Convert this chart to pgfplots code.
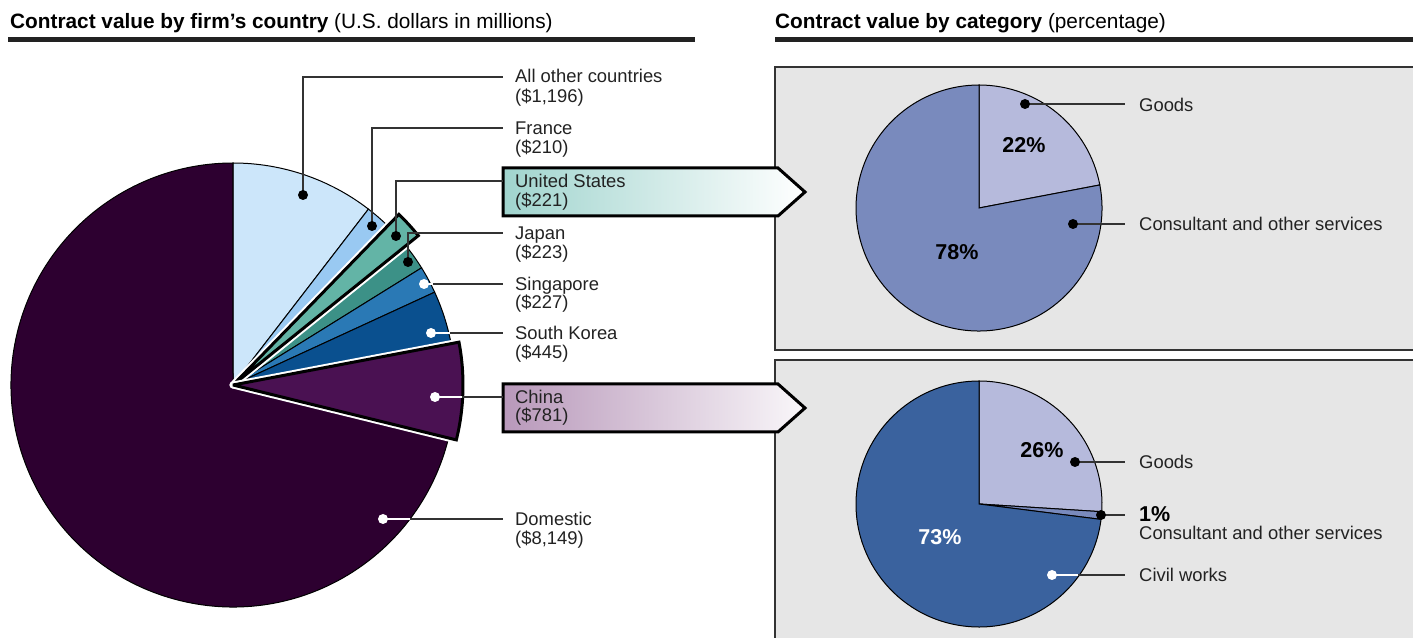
\documentclass[border=0pt]{standalone}
\usepackage{fontspec}
\setmainfont{Liberation Sans}
\usepackage{pgfplots}
\pgfplotsset{compat=1.18}

\definecolor{cAll}{RGB}{204,230,250}
\definecolor{cFra}{RGB}{153,201,242}
\definecolor{cUS}{RGB}{99,180,166}
\definecolor{cJap}{RGB}{60,145,135}
\definecolor{cSin}{RGB}{42,121,181}
\definecolor{cSK}{RGB}{10,80,143}
\definecolor{cChi}{RGB}{74,17,82}
\definecolor{cDom}{RGB}{45,0,48}
\definecolor{bUS}{RGB}{160,212,206}
\definecolor{bChi}{RGB}{184,152,186}
\definecolor{panel}{RGB}{230,230,230}
\definecolor{pGoods}{RGB}{182,186,220}
\definecolor{pCons}{RGB}{121,138,189}
\definecolor{pCivil}{RGB}{58,98,158}
\definecolor{txt}{RGB}{34,34,34}
\definecolor{ldr}{RGB}{51,51,51}

% contract value by firm's country, US$ millions
\def\vAll{1196}\def\vFra{210}\def\vUS{221}\def\vJap{223}
\def\vSin{227}\def\vSK{445}\def\vChi{781}\def\vDom{8149}
\pgfmathsetmacro\tot{\vAll+\vFra+\vUS+\vJap+\vSin+\vSK+\vChi+\vDom}
\pgfmathsetmacro\aA{90}
\pgfmathsetmacro\aB{\aA-\vAll/\tot*360}
\pgfmathsetmacro\aC{\aB-\vFra/\tot*360}
\pgfmathsetmacro\aD{\aC-\vUS/\tot*360}
\pgfmathsetmacro\aE{\aD-\vJap/\tot*360}
\pgfmathsetmacro\aF{\aE-\vSin/\tot*360}
\pgfmathsetmacro\aG{\aF-\vSK/\tot*360}
\pgfmathsetmacro\aH{\aG-\vChi/\tot*360}
\pgfmathsetmacro\aI{\aH-\vDom/\tot*360}
% category shares, percent
\def\tGoods{22}\def\tCons{78}
\def\bGoods{26}\def\bCons{1}\def\bCivil{73}
\pgfmathsetmacro\tA{90-\tGoods*3.6}
\pgfmathsetmacro\tB{\tA-\tCons*3.6}
\pgfmathsetmacro\bA{90-\bGoods*3.6}
\pgfmathsetmacro\bB{\bA-\bCons*3.6}
\pgfmathsetmacro\bC{\bB-\bCivil*3.6}

\newcommand\slice[6]{\path[#1] (axis cs:#2,#3) -- (axis cs:{#2+#4*cos(#5)},{#3+#4*sin(#5)})
  arc[start angle=#5,end angle=#6,radius=#4pt] -- cycle;}
\newcommand\lf{\fontsize{18.4}{20}\selectfont}
\newcommand\tf{\fontsize{20.8}{23}\selectfont}
\newcommand\pf{\fontsize{21.5}{23}\selectfont\bfseries}
\newcommand\lab[3]{\node[anchor=base west,inner sep=0pt,font=\lf,text=txt] at (axis cs:#1,{-(#2)-6.6}) {#3};}
\newcommand\pct[4]{\node[inner sep=0pt,font=\pf,text=#4] at (axis cs:#1,-#2) {#3};}

\begin{document}
\begin{tikzpicture}
\begin{axis}[x=1pt,y=1pt,xmin=0,xmax=1413,ymin=-637,ymax=0,
  hide axis,scale only axis,clip=true]
\path (axis cs:0,0) rectangle (axis cs:1413,-637);
% titles
\node[anchor=base west,inner sep=0pt,font=\tf,text=black] at (axis cs:10,-28.5)
  {\textbf{Contract value by firm’s country} (U.S. dollars in millions)};
\node[anchor=base west,inner sep=0pt,font=\tf,text=black] at (axis cs:775,-28.5)
  {\textbf{Contract value by category} (percentage)};
\fill[txt] (axis cs:8,-37) rectangle (axis cs:695,-42);
\fill[txt] (axis cs:775,-37) rectangle (axis cs:1413,-42);

% right panels
\draw[fill=panel,draw=ldr,line width=1.5pt] (axis cs:775,-67) rectangle (axis cs:1420,-350);
\draw[fill=panel,draw=ldr,line width=1.5pt] (axis cs:775,-360) rectangle (axis cs:1420,-650);

% top category pie
\slice{fill=pGoods,draw=black,line width=1pt}{979}{-208}{123}{90}{\tA}
\slice{fill=pCons,draw=black,line width=1pt}{979}{-208}{123}{\tA}{\tB}
% bottom category pie
\slice{fill=pGoods,draw=black,line width=1pt}{979}{-504}{123}{90}{\bA}
\slice{fill=pCons,draw=black,line width=1pt}{979}{-504}{123}{\bA}{\bB}
\slice{fill=pCivil,draw=black,line width=1pt}{979}{-504}{123}{\bB}{\bC}

\pct{1024}{145}{22\%}{black}
\pct{957}{252}{78\%}{black}
\pct{1042}{450}{26\%}{black}
\pct{940}{537}{73\%}{white}

% right leaders
\draw[ldr,line width=1.4pt] (axis cs:1025,-104) -- (axis cs:1125,-104);
\draw[ldr,line width=1.4pt] (axis cs:1073,-224) -- (axis cs:1125,-224);
\draw[ldr,line width=1.4pt] (axis cs:1075,-462) -- (axis cs:1125,-462);
\draw[ldr,line width=1.4pt] (axis cs:1101,-515) -- (axis cs:1125,-515);
\draw[white,line width=1.4pt] (axis cs:1052,-575) -- (axis cs:1078,-575);
\draw[ldr,line width=1.4pt] (axis cs:1078,-575) -- (axis cs:1125,-575);
\fill[black] (axis cs:1025,-104) circle[radius=5pt];
\fill[black] (axis cs:1073,-224) circle[radius=5pt];
\fill[black] (axis cs:1075,-462) circle[radius=5pt];
\fill[black] (axis cs:1101,-515) circle[radius=5pt];
\fill[white] (axis cs:1052,-575) circle[radius=5pt];
\lab{1139}{105}{Goods}
\lab{1139}{224}{Consultant and other services}
\lab{1139}{462}{Goods}
\node[anchor=base west,inner sep=0pt,font=\pf,text=black] at (axis cs:1139,-522) {1\%};
\lab{1139}{533}{Consultant and other services}
\lab{1139}{575}{Civil works}

% left pie
\slice{fill=cAll,draw=black,line width=1pt}{233}{-385}{222}{\aA}{\aB}
\slice{fill=cFra,draw=black,line width=1pt}{233}{-385}{222}{\aB}{\aC}
\slice{fill=cJap,draw=black,line width=1pt}{233}{-385}{222}{\aD}{\aE}
\slice{fill=cSin,draw=black,line width=1pt}{233}{-385}{222}{\aE}{\aF}
\slice{fill=cSK,draw=black,line width=1pt}{233}{-385}{222}{\aF}{\aG}
\slice{fill=cDom,draw=black,line width=1pt}{233}{-385}{222}{\aH}{\aI}
\slice{draw=white,line width=7pt,line join=round}{233}{-385}{238}{\aC}{\aD}
\slice{fill=cUS,draw=black,line width=3pt,line join=miter,miter limit=2}{233}{-385}{238}{\aC}{\aD}
\slice{draw=white,line width=7pt,line join=round}{233}{-385}{230}{\aG}{\aH}
\slice{fill=cChi,draw=black,line width=3pt,line join=miter,miter limit=2}{233}{-385}{230}{\aG}{\aH}

% callout arrows
\draw[line width=3pt,line join=miter,left color=bUS,right color=white]
  (axis cs:503,-168) -- (axis cs:778,-168) -- (axis cs:805,-192) -- (axis cs:778,-216) -- (axis cs:503,-216) -- cycle;
\draw[line width=3pt,line join=miter,left color=bChi,right color=white!92!bChi]
  (axis cs:503,-384) -- (axis cs:778,-384) -- (axis cs:805,-408) -- (axis cs:778,-432) -- (axis cs:503,-432) -- cycle;

% left leaders
\draw[ldr,line width=1.4pt] (axis cs:303,-195) -- (axis cs:303,-77) -- (axis cs:503,-77);
\draw[ldr,line width=1.4pt] (axis cs:372,-226) -- (axis cs:372,-128) -- (axis cs:503,-128);
\draw[ldr,line width=1.4pt] (axis cs:396,-236) -- (axis cs:396,-181) -- (axis cs:503,-181);
\draw[ldr,line width=1.4pt] (axis cs:408,-262) -- (axis cs:408,-233) -- (axis cs:503,-233);
\draw[white,line width=1.4pt] (axis cs:424,-284) -- (axis cs:433,-284);
\draw[ldr,line width=1.4pt] (axis cs:433,-284) -- (axis cs:503,-284);
\draw[white,line width=1.4pt] (axis cs:431,-333) -- (axis cs:450,-333);
\draw[ldr,line width=1.4pt] (axis cs:450,-333) -- (axis cs:503,-333);
\draw[white,line width=1.4pt] (axis cs:435,-397) -- (axis cs:462,-397);
\draw[ldr,line width=1.4pt] (axis cs:462,-397) -- (axis cs:503,-397);
\draw[white,line width=1.4pt] (axis cs:383,-519) -- (axis cs:410,-519);
\draw[ldr,line width=1.4pt] (axis cs:410,-519) -- (axis cs:503,-519);
\fill[black] (axis cs:303,-195) circle[radius=5pt];
\fill[black] (axis cs:372,-226) circle[radius=5pt];
\fill[black] (axis cs:396,-236) circle[radius=5pt];
\fill[black] (axis cs:408,-262) circle[radius=5pt];
\fill[white] (axis cs:424,-284) circle[radius=5pt];
\fill[white] (axis cs:431,-333) circle[radius=5pt];
\fill[white] (axis cs:435,-397) circle[radius=5pt];
\fill[white] (axis cs:383,-519) circle[radius=5pt];

% left labels
\lab{515}{76}{All other countries}
\lab{515}{96}{(\$1,196)}
\lab{515}{128}{France}
\lab{515}{147}{(\$210)}
\lab{515}{181}{United States}
\lab{515}{200}{(\$221)}
\lab{515}{233}{Japan}
\lab{515}{252}{(\$223)}
\lab{515}{284}{Singapore}
\lab{515}{302}{(\$227)}
\lab{515}{333}{South Korea}
\lab{515}{352}{(\$445)}
\lab{515}{397}{China}
\lab{515}{415}{(\$781)}
\lab{515}{519}{Domestic}
\lab{515}{538}{(\$8,149)}
\end{axis}
\end{tikzpicture}
\end{document}
